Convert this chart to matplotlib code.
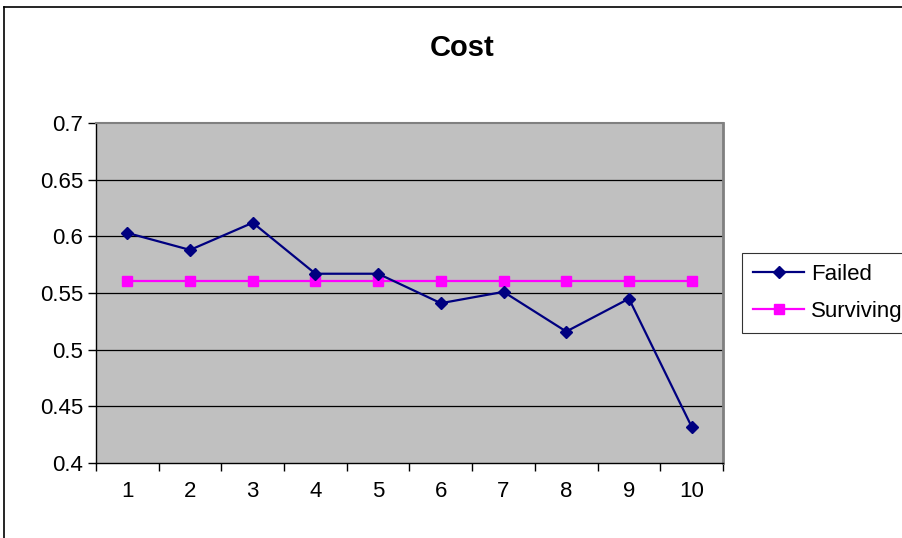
import matplotlib.pyplot as plt
from matplotlib.lines import Line2D

plt.rcParams['font.family'] = ['Liberation Sans', 'DejaVu Sans']

runs = [1, 2, 3, 4, 5, 6, 7, 8, 9, 10]
failed = [0.603, 0.588, 0.612, 0.567, 0.567, 0.541, 0.551, 0.516, 0.545, 0.432]
surviving = [0.561, 0.561, 0.561, 0.561, 0.561, 0.561, 0.561, 0.561, 0.561, 0.561]
y_ticks = [0.4, 0.45, 0.5, 0.55, 0.6, 0.65, 0.7]
y_labels = ['0.4', '0.45', '0.5', '0.55', '0.6', '0.65', '0.7']

fig = plt.figure(figsize=(9.03, 5.38), dpi=100)
W, H = 903, 538

# outer chart border (only top and left are inside the image)
fig.add_artist(Line2D([4 / W, 4 / W], [0, 1 - 7 / H], color='black', lw=1.2))
fig.add_artist(Line2D([4 / W, 1], [1 - 7 / H, 1 - 7 / H], color='black', lw=1.2))

ax = fig.add_axes([96 / W, 1 - 463 / H, (723 - 96) / W, (463 - 123) / H])
ax.set_facecolor('#C0C0C0')

ax.set_xlim(0.5, 10.5)
ax.set_ylim(0.4, 0.7)

for y in y_ticks[1:-1]:
    ax.axhline(y, color='black', lw=0.9, zorder=1)

ax.plot(runs, failed, color='#000080', lw=1.6, marker='D', ms=6.5,
        label='Failed', zorder=3)
ax.plot(runs, surviving, color='#FF00FF', lw=1.6, marker='s', ms=7.5,
        label='Surviving', zorder=2)

# category boundaries get the tick marks, labels sit between them
ax.set_xticks([i + 0.5 for i in range(0, 11)])
ax.set_xticklabels([])
ax.set_xticks(runs, minor=True)
ax.set_xticklabels([str(r) for r in runs], minor=True)
ax.tick_params(axis='x', which='major', direction='out', length=6, width=1, color='black')
ax.tick_params(axis='x', which='minor', length=0, pad=13, labelsize=16)

ax.set_yticks(y_ticks)
ax.set_yticklabels(y_labels)
ax.tick_params(axis='y', direction='out', length=6, width=1, color='black',
               pad=3, labelsize=16)

ax.spines['left'].set_color('black')
ax.spines['bottom'].set_color('black')
ax.spines['left'].set_linewidth(1)
ax.spines['bottom'].set_linewidth(1)
ax.spines['top'].set_color('#808080')
ax.spines['right'].set_color('#808080')
ax.spines['top'].set_linewidth(1.5)
ax.spines['right'].set_linewidth(2)

fig.text(462 / W, 1 - 48 / H, 'Cost', ha='center', va='center',
         fontsize=21, fontweight='bold')

leg = fig.legend(loc='upper left', bbox_to_anchor=(742 / W, 1 - 253 / H),
                 borderaxespad=0, fontsize=16, frameon=True, fancybox=False,
                 handlelength=2.3, handletextpad=0.3, borderpad=0.5,
                 labelspacing=0.72)
leg.get_frame().set_edgecolor('black')
leg.get_frame().set_linewidth(0.8)

fig.savefig('out.png', dpi=100)
